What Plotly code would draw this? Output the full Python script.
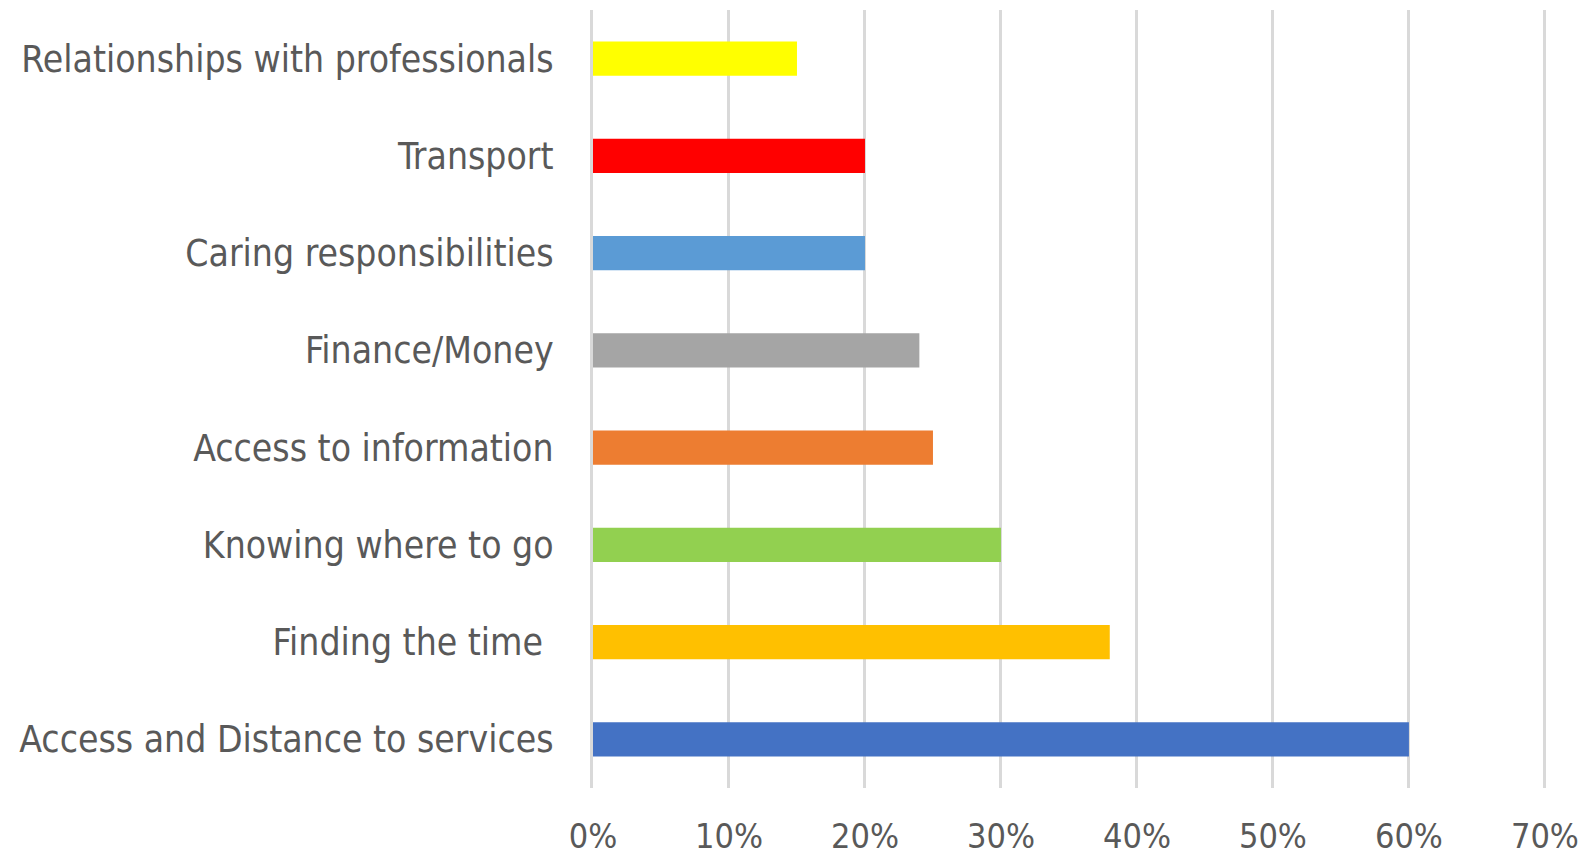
import plotly.graph_objects as go

categories = [
    "Access and Distance to services",
    "Finding the time\u00a0",
    "Knowing where to go",
    "Access to information",
    "Finance/Money",
    "Caring responsibilities",
    "Transport",
    "Relationships with professionals",
]
values = [0.60, 0.38, 0.30, 0.25, 0.24, 0.20, 0.20, 0.15]
colors = ["#4472C4", "#FFC000", "#92D050", "#ED7D31", "#A5A5A5", "#5B9BD5", "#FF0000", "#FFFF00"]
x_ticks = [0, 0.1, 0.2, 0.3, 0.4, 0.5, 0.6, 0.7]
x_labels = ["0%", "10%", "20%", "30%", "40%", "50%", "60%", "70%"]

font_family = "Liberation Sans Narrow, DejaVu Sans Condensed, Open Sans, sans-serif"

fig = go.Figure(
    go.Bar(
        y=categories,
        x=values,
        orientation="h",
        marker=dict(color=colors, line=dict(width=0)),
        width=0.35,
    )
)

fig.update_layout(
    width=1588,
    height=848,
    margin=dict(l=585, r=47, t=2, b=68),
    paper_bgcolor="white",
    plot_bgcolor="white",
    showlegend=False,
    font=dict(family=font_family, color="#595959", size=37),
)

fig.update_xaxes(
    range=[0, 0.703],
    tickvals=x_ticks,
    ticktext=x_labels,
    showgrid=True,
    gridcolor="#d9d9d9",
    gridwidth=3,
    zeroline=False,
    showline=False,
    ticks="",
    automargin=False,
    ticklabelstandoff=25,
    tickfont=dict(size=34, color="#595959"),
)

fig.update_yaxes(
    categoryorder="array",
    categoryarray=categories,
    range=[-0.5, 7.5],
    showgrid=False,
    zeroline=False,
    showline=True,
    linecolor="#d9d9d9",
    linewidth=3,
    ticks="",
    automargin=False,
    ticklabelstandoff=29,
    tickfont=dict(size=37, color="#595959"),
)

fig.write_html("out.html")
